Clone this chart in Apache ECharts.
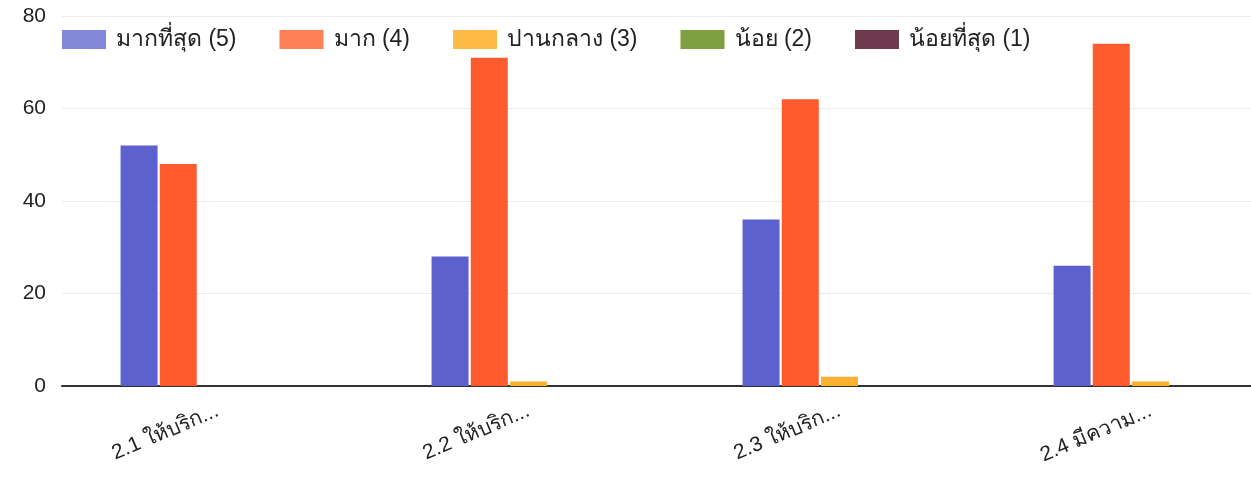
<!DOCTYPE html>
<html>
<head>
<meta charset="utf-8">
<script src="https://cdn.jsdelivr.net/npm/echarts@6/dist/echarts.min.js"></script>
<style>
  html, body { margin: 0; padding: 0; background: #fff; overflow: hidden; }
  #chart { width: 1320px; height: 483px; }
</style>
</head>
<body>
<div id="chart"></div>
<script>
// Survey answers per item, by rating level
const categories = ['2.1 ให้บริก...', '2.2 ให้บริก...', '2.3 ให้บริก...', '2.4 มีความ...'];
const seriesNames = ['มากที่สุด (5)', 'มาก (4)', 'ปานกลาง (3)', 'น้อย (2)', 'น้อยที่สุด (1)'];
const level5 = [52, 28, 36, 26];
const level4 = [48, 71, 62, 74];
const level3 = [0, 1, 2, 1];
const level2 = [0, 0, 0, 0];
const level1 = [0, 0, 0, 0];
const yTicks = [0, 20, 40, 60, 80];

const barColors = ['#5c61cd', '#fd5b2d', '#fcb030', '#7a9c3e', '#6d3b4f'];
const legendColors = ['#8488d8', '#fd8056', '#fdbb45', '#7f9f41', '#6e3b4e'];
const values = [level5, level4, level3, level2, level1];

const font = '"Liberation Sans", Arial, "Noto Sans", sans-serif';

const chart = echarts.init(document.getElementById('chart'), null, { renderer: 'canvas' });
chart.setOption({
  animation: false,
  backgroundColor: '#ffffff',
  textStyle: { fontFamily: font },
  legend: {
    left: 57,
    top: 23,
    itemWidth: 44,
    itemHeight: 19,
    itemGap: 43,
    icon: 'rect',
    textStyle: { fontSize: 23, color: '#222', fontFamily: font, padding: [0, 0, 0, 5] },
    data: seriesNames.map((n, i) => ({ name: n, itemStyle: { color: legendColors[i] } }))
  },
  grid: { left: 62, top: 16, width: 1244, bottom: 97, containLabel: false },
  xAxis: {
    type: 'category',
    data: categories,
    axisLine: { show: true, lineStyle: { color: '#333', width: 2 } },
    axisTick: { show: false },
    axisLabel: {
      rotate: 23,
      margin: 24,
      fontSize: 21,
      color: '#222',
      fontFamily: font
    }
  },
  yAxis: {
    type: 'value',
    min: yTicks[0],
    max: yTicks[yTicks.length - 1],
    interval: 20,
    axisLine: { show: false },
    axisTick: { show: false },
    axisLabel: { fontSize: 21, color: '#222', margin: 16, fontFamily: font },
    splitLine: { lineStyle: { color: '#ebebeb', width: 1 } }
  },
  series: seriesNames.map((n, i) => ({
    name: n,
    type: 'bar',
    data: values[i],
    barWidth: 37,
    barGap: '6%',
    itemStyle: { color: barColors[i] }
  }))
});
</script>
</body>
</html>
